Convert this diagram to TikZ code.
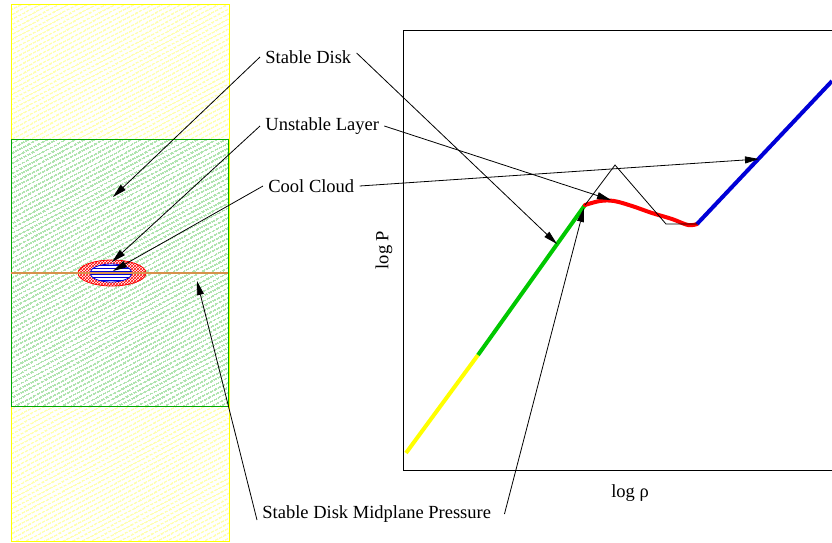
\documentclass[tikz,border=0pt]{standalone}
\usepackage{fontspec}
\setmainfont{Liberation Serif}
\usetikzlibrary{positioning,arrows.meta,patterns,patterns.meta}
\definecolor{diskyellow}{RGB}{255, 255, 0}
\definecolor{hatchyellow}{RGB}{255, 255, 130}
\definecolor{diskgreen}{RGB}{0, 170, 0}
\definecolor{hatchgreen}{RGB}{135, 215, 135}
\definecolor{linegreen}{RGB}{0, 200, 0}
\definecolor{cloudred}{RGB}{255, 0, 0}
\definecolor{cloudblue}{RGB}{0, 0, 215}
\definecolor{midorange}{RGB}{215, 145, 75}

\begin{document}
\begin{tikzpicture}[x=1pt, y=-1pt, line width=0.8pt,
        label node/.style={font=\fontsize{18.5}{22}\selectfont, inner sep=0pt, inner xsep=5pt},
        pointer/.style={-{Triangle[length=14pt,width=7pt]}, black},
        hatch/.style={pattern={Lines[angle=28, distance=4pt, line width=1.4pt]}},
        curve/.style={line width=4pt}]

            \useasboundingbox (0,0) rectangle (832,542);

            % Side view of the disk
            \draw[diskyellow, hatch, pattern color=hatchyellow] (11,4) rectangle (229,541);
            \draw[diskgreen, preaction={fill=white}, hatch, pattern color=hatchgreen] (11,139) rectangle (228,406);
            \draw[cloudred, preaction={fill=white}, pattern=crosshatch, pattern color=cloudred] (112,273) ellipse [x radius=34pt, y radius=13pt];
            \draw[cloudblue, preaction={fill=white}, pattern=horizontal lines, pattern color=cloudblue] (111,273) ellipse [x radius=21pt, y radius=9pt];
            \draw[midorange, line width=1.6pt] (11,273) -- (228,273);

            % Axes of the pressure plot
            \draw (832,30) -- (403,30) -- (403,470) -- (832,470);
            \node[label node, rotate=90] (ylabel) at (384,250) {log P};
            \node[label node] (xlabel) at (630,493) {log ρ};

            \coordinate (yellow start) at (406,453);
            \coordinate (yellow end) at (478,355);
            \coordinate (green end) at (585,205);
            \coordinate (red end) at (697,224);
            \coordinate (blue end) at (832,81);
            \coordinate (peak) at (615,165);
            \coordinate (dip) at (666,224);

            % Pressure curve in four pieces
            \draw[curve, diskyellow] (yellow start) -- (yellow end);
            \draw[curve, linegreen] (yellow end) -- (green end);
            \draw[curve, cloudred, line cap=round] plot[smooth, tension=0.6] coordinates
                {(585,205) (600,201) (614,201) (632,206) (652,213) (672,219) (688,225) (697,224)};
            \draw[curve, cloudblue] (red end) -- (blue end);
            \draw (green end) -- (peak) -- (dip) -- (red end);

            % Labels
            \node[label node, anchor=west] (disk) at (260,57) {Stable Disk};
            \node[label node, anchor=west] (layer) at (260,126) {Unstable Layer};
            \node[label node, anchor=west] (cloud) at (263,186) {Cool Cloud};
            \node[label node, anchor=west] (midplane) at (257,514) {Stable Disk Midplane Pressure};

            \coordinate (disk tip) at (113,197);
            \coordinate (layer tip) at (112,262);
            \coordinate (cloud tip) at (113,271);
            \coordinate (mid tip) at (197,281);
            \coordinate (green tip) at (557,244);
            \coordinate (red tip) at (611,200);
            \coordinate (blue tip) at (759,159);
            \coordinate (junction tip) at (584,208);

            % Pointers into the disk
            \path
                (disk.west) edge[pointer] (disk tip)
                (layer.west) edge[pointer] (layer tip)
                (cloud.west) edge[pointer] (cloud tip)
                ([yshift=-6pt]midplane.west) edge[pointer] (mid tip);

            % Pointers into the plot
            \path
                ([yshift=4pt]disk.east) edge[pointer] (green tip)
                (layer.east) edge[pointer] (red tip)
                (cloud.east) edge[pointer] (blue tip)
                ([xshift=8pt]midplane.east) edge[pointer] (junction tip);

    \end{tikzpicture}
\end{document}
